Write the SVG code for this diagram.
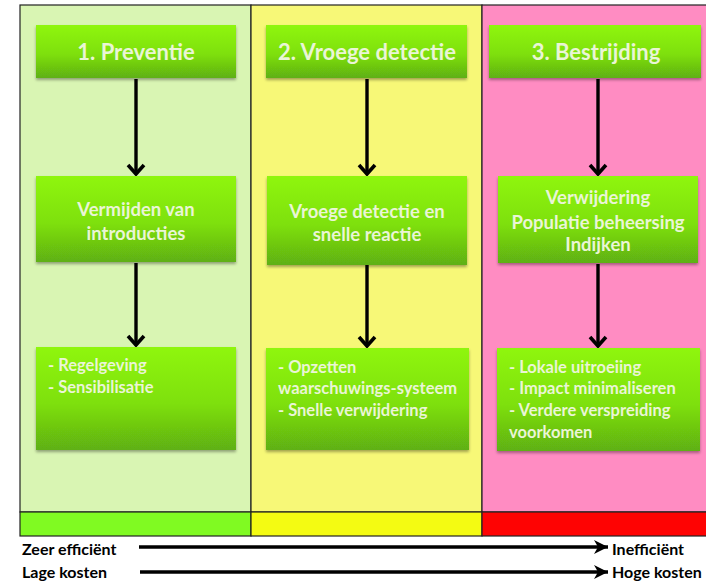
<svg xmlns="http://www.w3.org/2000/svg" width="706" height="582" viewBox="0 0 706 582">
<defs>
  <linearGradient id="g" x1="0" y1="0" x2="0" y2="1">
    <stop offset="0" stop-color="#8ff60e"/>
    <stop offset="0.55" stop-color="#7ee010"/>
    <stop offset="1" stop-color="#5fb012"/>
  </linearGradient>
  <filter id="sh" x="-5%" y="-5%" width="110%" height="115%">
    <feGaussianBlur in="SourceAlpha" stdDeviation="1.5"/>
    <feOffset dy="2" result="b"/>
    <feComponentTransfer><feFuncA type="linear" slope="0.35"/></feComponentTransfer>
    <feMerge><feMergeNode/><feMergeNode in="SourceGraphic"/></feMerge>
  </filter>
  <marker id="ah" markerWidth="14" markerHeight="20" refX="12" refY="10" orient="auto" markerUnits="userSpaceOnUse" viewBox="0 0 14 20">
    <path d="M3,2 L12,10 L3,18" fill="none" stroke="#000" stroke-width="3.6"/>
  </marker>
  <marker id="ah2" markerWidth="16" markerHeight="16" refX="15" refY="8" orient="auto" markerUnits="userSpaceOnUse" viewBox="0 0 16 16">
    <path d="M1,1 L15,8 L1,15 L5,8 Z" fill="#000"/>
  </marker>
</defs>
<style>
  .box{fill:url(#g);filter:url(#sh);}
  .t{font-family:Lato,"Open Sans","Liberation Sans",sans-serif;font-weight:bold;fill:#eaf5d6;}
  .h{font-size:22px;text-anchor:middle;}
  .m{font-size:18.5px;text-anchor:middle;}
  .b{font-size:16.5px;}
  .c{stroke:#000;stroke-width:3.4;fill:none;}
  .lbl{font-family:Lato,"Open Sans","Liberation Sans",sans-serif;font-weight:bold;font-size:16px;fill:#000;}
  .frame{stroke:#222;stroke-width:1.2;}
</style>
<rect width="706" height="582" fill="#fff"/>
<g id="columns">
  <rect x="20" y="5" width="231" height="507" fill="#d9f5b3" class="frame"/>
  <rect x="251" y="5" width="231" height="507" fill="#f7f877" class="frame"/>
  <rect x="482" y="5" width="230" height="507" fill="#ff8cc2" class="frame"/>
  <rect x="20" y="512" width="231" height="24" fill="#80fa22" class="frame"/>
  <rect x="251" y="512" width="231" height="24" fill="#f4fb12" class="frame"/>
  <rect x="482" y="512" width="230" height="24" fill="#fe0303" class="frame"/>
</g>
<g id="connectors">
  <line x1="136" y1="79" x2="136" y2="174" class="c" marker-end="url(#ah)"/>
  <line x1="136" y1="263" x2="136" y2="345" class="c" marker-end="url(#ah)"/>
  <line x1="367" y1="79" x2="367" y2="174" class="c" marker-end="url(#ah)"/>
  <line x1="367" y1="265" x2="367" y2="346" class="c" marker-end="url(#ah)"/>
  <line x1="598" y1="79" x2="598" y2="174" class="c" marker-end="url(#ah)"/>
  <line x1="598" y1="264" x2="598" y2="346" class="c" marker-end="url(#ah)"/>
  <line x1="139" y1="547" x2="608" y2="547" class="c" marker-end="url(#ah2)"/>
  <line x1="140" y1="572" x2="608" y2="572" class="c" marker-end="url(#ah2)"/>
</g>
<g id="n1">
  <rect x="36" y="25" width="200" height="53" class="box"/>
  <text x="136" y="60" class="t h">1. Preventie</text>
</g>
<g id="n2">
  <rect x="266" y="25" width="201" height="53" class="box"/>
  <text x="367" y="60" class="t h">2. Vroege detectie</text>
</g>
<g id="n3">
  <rect x="489" y="25" width="212" height="53" class="box"/>
  <text x="596" y="60" class="t h">3. Bestrijding</text>
</g>
<g id="n4">
  <rect x="36" y="176" width="200" height="86" class="box"/>
  <text x="136" y="216" class="t m">Vermijden van</text>
  <text x="136" y="240" class="t m">introducties</text>
</g>
<g id="n5">
  <rect x="267" y="176" width="200" height="89" class="box"/>
  <text x="367" y="218" class="t m">Vroege detectie en</text>
  <text x="367" y="241" class="t m">snelle reactie</text>
</g>
<g id="n6">
  <rect x="498" y="176" width="200" height="87" class="box"/>
  <text x="598" y="204" class="t m">Verwijdering</text>
  <text x="598" y="229" class="t m">Populatie beheersing</text>
  <text x="598" y="251" class="t m">Indijken</text>
</g>
<g id="n7">
  <rect x="36" y="347" width="200" height="103" class="box"/>
  <text x="48" y="371" class="t b">- Regelgeving</text>
  <text x="48" y="393" class="t b">- Sensibilisatie</text>
</g>
<g id="n8">
  <rect x="266" y="348" width="203" height="102" class="box"/>
  <text x="278" y="373" class="t b">- Opzetten</text>
  <text x="278" y="394" class="t b">waarschuwings-systeem</text>
  <text x="278" y="416" class="t b">- Snelle verwijdering</text>
</g>
<g id="n9">
  <rect x="497" y="348" width="203" height="103" class="box"/>
  <text x="509" y="373" class="t b">- Lokale uitroeiing</text>
  <text x="509" y="394" class="t b">- Impact minimaliseren</text>
  <text x="509" y="416" class="t b">- Verdere verspreiding</text>
  <text x="509" y="438" class="t b">voorkomen</text>
</g>
<g id="legend">
  <text x="22" y="555" class="lbl">Zeer efficiënt</text>
  <text x="22" y="578" class="lbl">Lage kosten</text>
  <text x="612" y="555" class="lbl">Inefficiënt</text>
  <text x="612" y="578" class="lbl">Hoge kosten</text>
</g>
</svg>
